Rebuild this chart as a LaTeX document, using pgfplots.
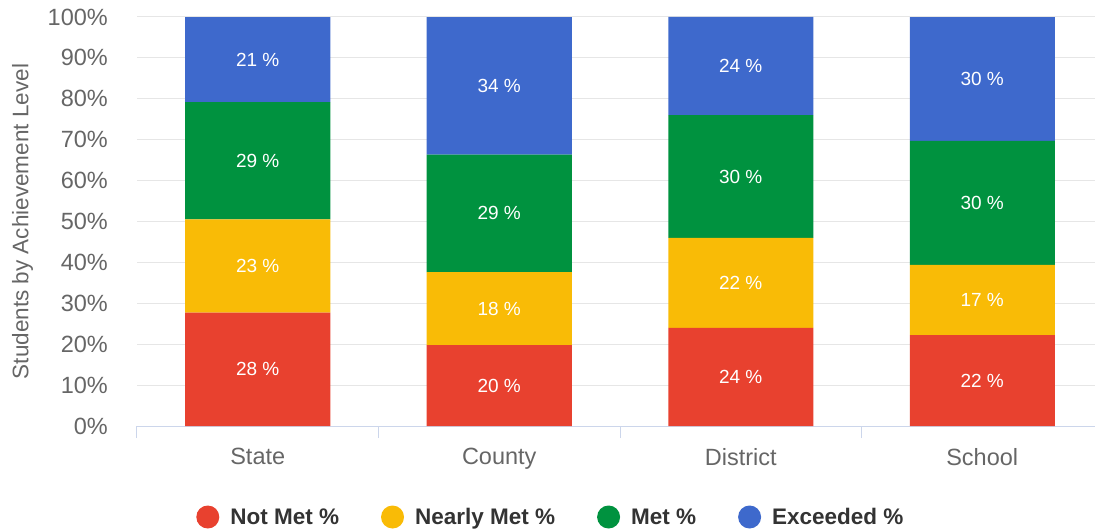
\documentclass[border=0pt]{standalone}
\usepackage{fontspec}
\setmainfont{Liberation Sans}
\usepackage{pgfplots}
\usepackage{pgfplotstable}
\pgfplotsset{compat=1.18}

\definecolor{cRed}{HTML}{E8412F}
\definecolor{cYel}{HTML}{F9BB06}
\definecolor{cGrn}{HTML}{00923F}
\definecolor{cBlu}{HTML}{3E69CC}
\definecolor{gridc}{HTML}{E6E6E6}
\definecolor{axisc}{HTML}{CCD6EB}
\definecolor{labc}{HTML}{666666}
\definecolor{legc}{HTML}{333333}

% shares per group, stacked to 100 (percent stacking)
\pgfplotstableread{
cat      x notmet nearly met exceeded tot
State    0 28     23     29  21       101
County   1 20     18     29  34       101
District 2 24     22     30  24       100
School   3 22     17     30  30       99
}\scores

\pgfplotsset{
  legcirc/.style={legend image code/.code={\fill[#1] (0pt,0pt) circle (11.5pt);}},
}

\begin{document}
\begin{tikzpicture}
\path[use as bounding box] (0,0) rectangle (1095pt,531pt);
\begin{axis}[
  at={(137pt,105pt)}, anchor=south west,
  scale only axis, width=958pt, height=409pt,
  ybar stacked, bar width=145pt,
  xmin=-0.5, xmax=3.4669, ymin=0, ymax=100,
  axis lines*=left,
  x axis line style={-, draw=axisc, line width=1pt},
  y axis line style={draw=none},
  xtick={0,1,2,3}, xticklabels={State,County,District,School},
  minor xtick={-0.5,0.5,1.5,2.5},
  major tick length=0pt, minor tick length=12pt,
  tick align=outside,
  minor x tick style={draw=axisc, line width=1pt},
  ytick={0,10,...,100},
  yticklabel={\pgfmathprintnumber{\tick}\%},
  /pgf/number format/assume math mode=true,
  ymajorgrids, grid style={draw=gridc, line width=1pt},
  yticklabel style={font=\fontsize{23.5}{28}\selectfont, text=labc, anchor=east, inner sep=0pt, xshift=-29pt},
  xticklabel style={font=\fontsize{23.5}{28}\selectfont, text=labc, anchor=north, inner sep=0pt, yshift=-22pt},
  ylabel={Students by Achievement Level},
  ylabel style={at={(axis description cs:-0.1195,0.5)}, anchor=center, font=\fontsize{22.5}{27}\selectfont, text=labc},
  point meta=explicit symbolic,
  nodes near coords={\pgfplotspointmeta~\%},
  every node near coord/.append style={font=\fontsize{19}{22}\selectfont, text=white, anchor=center},
  legend columns=4,
  legend style={draw=none, fill=none, at={(0.432,-0.2225)}, anchor=center,
    font=\bfseries\fontsize{22.5}{27}\selectfont, text=legc,
    /tikz/every odd column/.append style={column sep=9pt},
    /tikz/every even column/.append style={column sep=40pt}},
]
\addplot[fill=cRed, draw=none, legcirc=cRed] table[x=x, y expr=\thisrow{notmet}*100/\thisrow{tot}, meta=notmet] {\scores};
\addlegendentry{Not Met \%}
\addplot[fill=cYel, draw=none, legcirc=cYel] table[x=x, y expr=\thisrow{nearly}*100/\thisrow{tot}, meta=nearly] {\scores};
\addlegendentry{Nearly Met \%}
\addplot[fill=cGrn, draw=none, legcirc=cGrn] table[x=x, y expr=\thisrow{met}*100/\thisrow{tot}, meta=met] {\scores};
\addlegendentry{Met \%}
\addplot[fill=cBlu, draw=none, legcirc=cBlu] table[x=x, y expr=\thisrow{exceeded}*100/\thisrow{tot}, meta=exceeded] {\scores};
\addlegendentry{Exceeded \%}
\end{axis}
\end{tikzpicture}
\end{document}
